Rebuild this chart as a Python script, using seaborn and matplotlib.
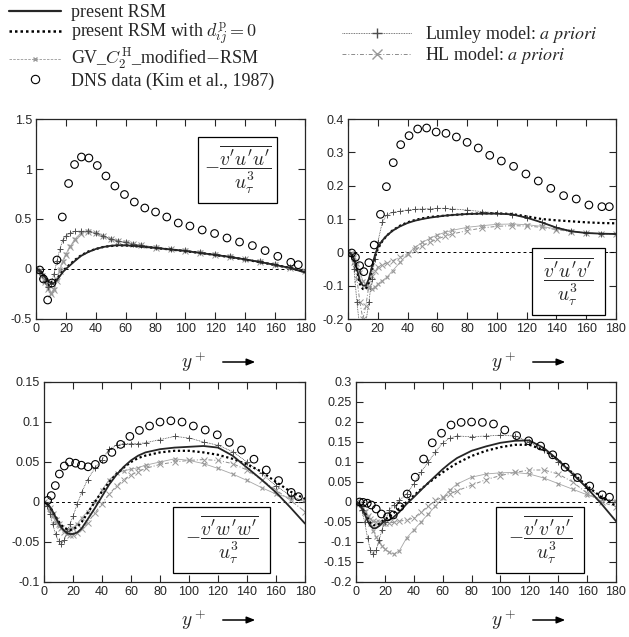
import numpy as np
import pandas as pd
import matplotlib
matplotlib.use("Agg")
import matplotlib.pyplot as plt
from matplotlib.lines import Line2D
from matplotlib.patches import Rectangle, FancyArrowPatch
from matplotlib.font_manager import FontProperties
from matplotlib.ticker import FormatStrFormatter, MultipleLocator
import seaborn as sns

# y+ grid used for the model curves
yp = [0, 2, 4, 6, 8, 10, 12, 14, 16, 18, 20, 23, 26, 30, 35, 40, 45, 50, 55, 60,
      65, 70, 80, 90, 100, 110, 120, 130, 140, 150, 160, 170, 180]
# y+ positions of the DNS points
yp_dns = [2.5, 5, 7.8, 10.6, 14, 17.6, 21.8, 25.8, 30.4, 35.4, 41, 46.8, 52.8, 59.2,
          65.8, 72.8, 80, 87.5, 95.2, 103, 111.2, 119.5, 127.8, 136.2, 144.8, 153.3,
          161.8, 170.5, 175.5]

# panel 1: -v'u'u'/u_tau^3
uuv_rsm = [0, -0.01, -0.04, -0.08, -0.12, -0.145, -0.14, -0.11, -0.07, -0.03, 0.0, 0.04, 0.08,
           0.13, 0.17, 0.2, 0.22, 0.232, 0.238, 0.237, 0.232, 0.225, 0.21, 0.195, 0.18, 0.16,
           0.14, 0.12, 0.095, 0.07, 0.04, 0.01, -0.035]
uuv_d0 = [0, -0.01, -0.035, -0.075, -0.11, -0.13, -0.125, -0.1, -0.06, -0.02, 0.01, 0.05, 0.09,
          0.135, 0.175, 0.2, 0.22, 0.23, 0.235, 0.235, 0.23, 0.224, 0.21, 0.195, 0.178, 0.16,
          0.14, 0.118, 0.094, 0.068, 0.04, 0.01, -0.03]
uuv_gv = [0, -0.02, -0.06, -0.12, -0.19, -0.24, -0.2, -0.1, 0.0, 0.08, 0.15, 0.23, 0.3, 0.36,
          0.38, 0.36, 0.33, 0.3, 0.28, 0.265, 0.25, 0.24, 0.215, 0.2, 0.185, 0.165, 0.145,
          0.125, 0.1, 0.075, 0.045, 0.015, -0.02]
uuv_lum = [0, -0.02, -0.06, -0.12, -0.18, -0.15, -0.05, 0.08, 0.2, 0.29, 0.33, 0.36, 0.375,
           0.38, 0.375, 0.355, 0.33, 0.3, 0.28, 0.265, 0.25, 0.24, 0.215, 0.2, 0.185, 0.165,
           0.145, 0.125, 0.1, 0.075, 0.045, 0.015, -0.02]
uuv_hl = [0, -0.02, -0.07, -0.13, -0.2, -0.25, -0.21, -0.12, -0.02, 0.07, 0.14, 0.22, 0.29,
          0.35, 0.37, 0.355, 0.325, 0.3, 0.28, 0.262, 0.248, 0.238, 0.213, 0.198, 0.182,
          0.162, 0.142, 0.12, 0.097, 0.072, 0.042, 0.012, -0.022]
uuv_dns = [-0.01, -0.1, -0.31, -0.14, 0.09, 0.52, 0.855, 1.045, 1.12, 1.11, 1.035, 0.93, 0.83,
           0.745, 0.67, 0.61, 0.57, 0.52, 0.46, 0.43, 0.39, 0.355, 0.31, 0.27, 0.234, 0.184,
           0.127, 0.067, 0.043]

# panel 2: v'u'v'/u_tau^3
uvv_rsm = [0, -0.005, -0.02, -0.05, -0.085, -0.1, -0.1, -0.08, -0.045, -0.01, 0.015, 0.035,
           0.05, 0.065, 0.078, 0.088, 0.095, 0.1, 0.104, 0.107, 0.11, 0.112, 0.115, 0.116,
           0.116, 0.114, 0.104, 0.09, 0.074, 0.063, 0.058, 0.056, 0.055]
uvv_d0 = [0, -0.005, -0.02, -0.055, -0.095, -0.11, -0.11, -0.09, -0.05, -0.015, 0.01, 0.033,
          0.05, 0.066, 0.08, 0.09, 0.097, 0.102, 0.106, 0.108, 0.11, 0.112, 0.115, 0.117,
          0.117, 0.115, 0.108, 0.1, 0.096, 0.093, 0.09, 0.088, 0.087]
uvv_gv = [0, -0.003, -0.015, -0.035, -0.06, -0.085, -0.1, -0.108, -0.11, -0.105, -0.095,
          -0.085, -0.075, -0.055, -0.03, -0.005, 0.015, 0.03, 0.042, 0.052, 0.06, 0.066,
          0.075, 0.08, 0.084, 0.085, 0.083, 0.078, 0.07, 0.063, 0.058, 0.056, 0.055]
uvv_lum = [0, -0.01, -0.05, -0.15, -0.23, -0.26, -0.21, -0.15, -0.08, -0.02, 0.03, 0.09,
           0.112, 0.12, 0.124, 0.127, 0.129, 0.13, 0.131, 0.132, 0.132, 0.13, 0.127, 0.122,
           0.118, 0.113, 0.104, 0.09, 0.075, 0.064, 0.058, 0.056, 0.055]
uvv_hl = [0, -0.005, -0.03, -0.08, -0.15, -0.2, -0.16, -0.1, -0.07, -0.055, -0.045, -0.038,
          -0.032, -0.025, -0.015, -0.005, 0.008, 0.02, 0.03, 0.04, 0.048, 0.055, 0.065,
          0.073, 0.078, 0.08, 0.079, 0.075, 0.068, 0.062, 0.058, 0.056, 0.055]
uvv_dns = [-0.002, -0.015, -0.04, -0.058, -0.031, 0.022, 0.114, 0.197, 0.269, 0.323, 0.35,
           0.37, 0.373, 0.361, 0.357, 0.346, 0.33, 0.313, 0.291, 0.274, 0.258, 0.235, 0.214,
           0.192, 0.17, 0.16, 0.142, 0.137, 0.137]

# panel 3: -v'w'w'/u_tau^3
vww_rsm = [0, -0.002, -0.006, -0.012, -0.019, -0.026, -0.032, -0.036, -0.039, -0.04, -0.04,
           -0.038, -0.033, -0.022, -0.008, 0.007, 0.022, 0.034, 0.044, 0.052, 0.058, 0.062,
           0.066, 0.068, 0.069, 0.07, 0.068, 0.058, 0.043, 0.028, 0.012, -0.007, -0.027]
vww_d0 = [0, -0.002, -0.006, -0.012, -0.018, -0.024, -0.029, -0.032, -0.034, -0.035, -0.034,
          -0.031, -0.025, -0.014, 0.0, 0.013, 0.025, 0.035, 0.043, 0.05, 0.055, 0.058, 0.062,
          0.064, 0.064, 0.062, 0.059, 0.054, 0.047, 0.038, 0.025, 0.013, 0.004]
vww_gv = [0, -0.003, -0.01, -0.018, -0.025, -0.03, -0.033, -0.035, -0.035, -0.034, -0.032,
          -0.027, -0.02, -0.012, 0.0, 0.015, 0.028, 0.036, 0.039, 0.041, 0.043, 0.046, 0.05,
          0.054, 0.052, 0.048, 0.042, 0.035, 0.027, 0.018, 0.01, 0.005, 0.002]
vww_lum = [0, -0.005, -0.015, -0.028, -0.04, -0.049, -0.052, -0.048, -0.036, -0.027, -0.018,
           -0.002, 0.012, 0.028, 0.042, 0.053, 0.066, 0.071, 0.073, 0.073, 0.073, 0.074,
           0.078, 0.082, 0.08, 0.075, 0.071, 0.063, 0.05, 0.036, 0.02, 0.008, 0.0]
vww_hl = [0, -0.003, -0.008, -0.015, -0.022, -0.028, -0.033, -0.037, -0.04, -0.041, -0.041,
          -0.039, -0.034, -0.026, -0.014, -0.002, 0.01, 0.02, 0.028, 0.034, 0.038, 0.042,
          0.047, 0.05, 0.052, 0.053, 0.052, 0.048, 0.04, 0.028, 0.015, 0.002, -0.012]
vww_dns = [0.002, 0.008, 0.0205, 0.035, 0.045, 0.05, 0.0485, 0.046, 0.044, 0.047, 0.0535,
           0.062, 0.072, 0.082, 0.0895, 0.095, 0.1, 0.1015, 0.1, 0.095, 0.09, 0.084, 0.0745,
           0.065, 0.0535, 0.04, 0.0268, 0.012, 0.0067]

# panel 4: -v'v'v'/u_tau^3
vvv_rsm = [0, -0.004, -0.015, -0.03, -0.047, -0.06, -0.066, -0.065, -0.06, -0.053, -0.046,
           -0.045, -0.038, -0.025, -0.005, 0.012, 0.03, 0.048, 0.065, 0.082, 0.097, 0.11,
           0.128, 0.139, 0.148, 0.153, 0.154, 0.135, 0.105, 0.07, 0.035, -0.005, -0.048]
vvv_d0 = [0, -0.004, -0.013, -0.026, -0.04, -0.052, -0.058, -0.058, -0.055, -0.049, -0.043,
          -0.037, -0.028, -0.016, 0.0, 0.016, 0.032, 0.047, 0.061, 0.074, 0.086, 0.097,
          0.115, 0.128, 0.137, 0.143, 0.143, 0.13, 0.105, 0.072, 0.04, 0.012, -0.01]
vvv_gv = [0, -0.003, -0.01, -0.022, -0.038, -0.055, -0.072, -0.088, -0.1, -0.11, -0.118,
          -0.126, -0.13, -0.122, -0.09, -0.07, -0.05, -0.03, -0.01, 0.01, 0.03, 0.045, 0.062,
          0.07, 0.073, 0.074, 0.07, 0.06, 0.046, 0.032, 0.018, 0.008, 0.003]
vvv_lum = [0, -0.005, -0.02, -0.05, -0.09, -0.12, -0.13, -0.12, -0.095, -0.07, -0.05, -0.02,
           -0.008, 0.004, 0.02, 0.045, 0.075, 0.1, 0.125, 0.148, 0.16, 0.165, 0.163, 0.165,
           0.167, 0.165, 0.15, 0.13, 0.1, 0.068, 0.035, 0.012, 0.0]
vvv_hl = [0, -0.005, -0.015, -0.025, -0.035, -0.042, -0.047, -0.05, -0.051, -0.052, -0.052,
          -0.052, -0.051, -0.048, -0.045, -0.04, -0.025, -0.01, 0.004, 0.012, 0.02, 0.028,
          0.042, 0.056, 0.066, 0.074, 0.08, 0.08, 0.07, 0.05, 0.022, 0.0, -0.012]
vvv_dns = [0.0, -0.001, -0.003, -0.0075, -0.0175, -0.03, -0.037, -0.0325, -0.012, 0.02, 0.062,
           0.1075, 0.148, 0.172, 0.1925, 0.199, 0.2, 0.199, 0.195, 0.18, 0.166, 0.153, 0.14,
           0.118, 0.087, 0.061, 0.04, 0.018, 0.012]

panel_titles = [r"$-\dfrac{\overline{v^\prime u^\prime u^\prime}}{u_\tau^3}$",
                r"$\dfrac{\overline{v^\prime u^\prime v^\prime}}{u_\tau^3}$",
                r"$-\dfrac{\overline{v^\prime w^\prime w^\prime}}{u_\tau^3}$",
                r"$-\dfrac{\overline{v^\prime v^\prime v^\prime}}{u_\tau^3}$"]

sns.set_style("ticks")
plt.rcParams["font.family"] = ["Liberation Sans", "DejaVu Sans"]
plt.rcParams["mathtext.fontset"] = "cm"
plt.rcParams["axes.unicode_minus"] = False

fig = plt.figure(figsize=(6.29, 6.37), dpi=100)
W, H = 629.0, 637.0

def add_ax(l, t, r, b):
    return fig.add_axes([l / W, 1 - b / H, (r - l) / W, (b - t) / H])

axes = [add_ax(36, 119, 305, 319), add_ax(348, 119, 616, 319),
        add_ax(44, 382, 305, 582), add_ax(356, 382, 616, 582)]

# label boxes in axes fractions: x0, y0, x1, y1
panels = [
    (uuv_rsm, uuv_d0, uuv_gv, uuv_lum, uuv_hl, uuv_dns, (-0.5, 1.5), 0.5, (0.602, 0.58, 0.896, 0.91)),
    (uvv_rsm, uvv_d0, uvv_gv, uvv_lum, uvv_hl, uvv_dns, (-0.2, 0.4), 0.1, (0.687, 0.02, 0.959, 0.355)),
    (vww_rsm, vww_d0, vww_gv, vww_lum, vww_hl, vww_dns, (-0.1, 0.15), 0.05, (0.494, 0.045, 0.866, 0.375)),
    (vvv_rsm, vvv_d0, vvv_gv, vvv_lum, vvv_hl, vvv_dns, (-0.2, 0.3), 0.05, (0.538, 0.045, 0.877, 0.375)),
]

for ax, (rsm, d0, gv, lum, hl, dns, ylim, ystep, box), title in zip(axes, panels, panel_titles):
    ax.axhline(0, color="black", lw=0.7, ls=(0, (3, 3)), zorder=1)
    sns.lineplot(x=yp, y=hl, ax=ax, color="0.55", lw=0.7, ls=(0, (4, 2, 1, 2)),
                 marker="x", markersize=5, markeredgecolor="0.6", markeredgewidth=0.7,
                 estimator=None, sort=False)
    sns.lineplot(x=yp, y=gv, ax=ax, color="0.65", lw=0.6,
                 marker="x", markersize=3.5, markeredgecolor="0.6", markeredgewidth=0.8,
                 estimator=None, sort=False)
    sns.lineplot(x=yp, y=lum, ax=ax, color="0.3", lw=0.6, ls=(0, (1, 1)),
                 marker="+", markersize=5, markeredgecolor="0.3", markeredgewidth=0.7,
                 estimator=None, sort=False)
    sns.lineplot(x=yp, y=d0, ax=ax, color="black", lw=1.6, ls=(0, (1, 1.2)),
                 estimator=None, sort=False)
    sns.lineplot(x=yp, y=rsm, ax=ax, color="0.15", lw=1.3, estimator=None, sort=False)
    sns.scatterplot(x=yp_dns, y=dns, ax=ax, marker="o", s=30, facecolors="none",
                    edgecolor="black", linewidth=0.8, zorder=5)
    ax.set_xlim(0, 180)
    ax.set_ylim(*ylim)
    ax.xaxis.set_major_locator(MultipleLocator(20))
    ax.yaxis.set_major_locator(MultipleLocator(ystep))
    ax.yaxis.set_major_formatter(FormatStrFormatter("%g"))
    ax.tick_params(direction="in", top=True, right=True, length=5, width=0.8,
                   labelsize=9, pad=3)
    for s in ax.spines.values():
        s.set_linewidth(0.9)
    ax.set_xlabel("")
    ax.set_ylabel("")
    x0, y0, x1, y1 = box
    ax.add_patch(Rectangle((x0, y0), x1 - x0, y1 - y0, transform=ax.transAxes,
                           fc="white", ec="black", lw=0.9, zorder=6))
    ax.text((x0 + x1) / 2, (y0 + y1) / 2, title, transform=ax.transAxes,
            ha="center", va="center", fontsize=14, zorder=7)

# x-axis labels  y+  ->
for (tx, ax0, ax1, ty) in [(193, 220, 258, 362), (503, 530, 568, 362),
                           (193, 220, 258, 620), (503, 530, 568, 620)]:
    fig.text(tx / W, 1 - ty / H, r"$y^+$", ha="center", va="center", fontsize=14)
    fig.add_artist(FancyArrowPatch(
        (ax0 / W, 1 - ty / H), (ax1 / W, 1 - ty / H), transform=fig.transFigure,
        arrowstyle="-|>,head_length=5,head_width=2", color="black", lw=1.1))

legend_prop = {"family": "Liberation Serif", "size": 13}
h_left = [
    Line2D([], [], color="0.15", lw=1.6),
    Line2D([], [], color="black", lw=1.8, ls=(0, (1, 1.2))),
    Line2D([], [], color="0.6", lw=0.6, ls=(0, (3, 1.5)), marker="x", markersize=3,
           markeredgecolor="0.6"),
    Line2D([], [], ls="none", marker="o", markersize=6, mfc="none", mec="black", mew=0.8),
]
l_left = ["present RSM", r"present RSM with $d^{\mathrm{p}}_{ij}=0$",
          r"GV_$C_2^{\mathrm{H}}$_modified$-$RSM", "DNS data (Kim et al., 1987)"]
h_right = [
    Line2D([], [], color="0.3", lw=0.6, ls=(0, (1, 1)), marker="+", markersize=7,
           markeredgecolor="0.3"),
    Line2D([], [], color="0.55", lw=0.7, ls=(0, (4, 2, 1, 2)), marker="x", markersize=7,
           markeredgecolor="0.6"),
]
l_right = [r"Lumley model: $\mathit{a\ priori}$", r"HL model: $\mathit{a\ priori}$"]
right_prop = FontProperties(family="Liberation Serif", size=13, math_fontfamily="stix")

fig.legend(h_left, l_left, loc="upper left", bbox_to_anchor=(9 / W, 1 - 4 / H),
           frameon=False, prop=legend_prop, numpoints=1, handlelength=2.9,
           handletextpad=0.55, labelspacing=0.0, borderaxespad=0, borderpad=0)
fig.legend(h_right, l_right, loc="upper left", bbox_to_anchor=(342 / W, 1 - 24 / H),
           frameon=False, prop=right_prop, numpoints=1, handlelength=3.9,
           handletextpad=0.7, labelspacing=0.0, borderaxespad=0, borderpad=0)

fig.savefig("out.png", dpi=100)
